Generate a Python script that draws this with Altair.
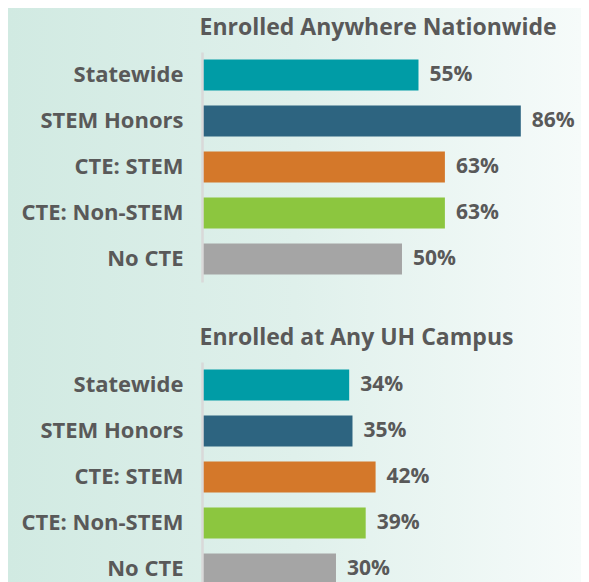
import altair as alt
import pandas as pd

groups = ["Statewide", "STEM Honors", "CTE: STEM", "CTE: Non-STEM", "No CTE"]
nationwide = [55, 86, 63, 63, 50]
uh_campus = [34, 35, 42, 39, 30]
colors = ["#009ca6", "#2d6480", "#d4782a", "#8cc63f", "#a5a5a5"]
titles = ["Enrolled Anywhere Nationwide", "Enrolled at Any UH Campus"]

BASE = -10.6
XMAX = 100
W = 365
H = 230
TEXT = "#595959"
FONT = "Open Sans"

gradient = alt.LinearGradient(
    gradient="linear",
    stops=[
        alt.GradientStop(color="#d1eae2", offset=0),
        alt.GradientStop(color="#dff0eb", offset=0.5),
        alt.GradientStop(color="#f6fbfa", offset=1),
    ],
    x1=0, x2=1, y1=0, y2=0,
)


def panel(values, title, bg_bottom):
    df = pd.DataFrame({"group": groups, "value": values,
                       "label": [f"{v}%" for v in values]})
    bg = alt.Chart(pd.DataFrame({"k": [0]})).mark_rect(fill=gradient).encode(
        x=alt.value(-194), x2=alt.value(379),
        y=alt.value(-44), y2=alt.value(bg_bottom),
    )
    y = alt.Y(
        "group:N", sort=groups,
        scale=alt.Scale(paddingInner=0.33, paddingOuter=0.165),
        axis=alt.Axis(
            title=None, ticks=False, labelPadding=19,
            labelFont=FONT, labelFontSize=22, labelFontWeight="bold",
            labelColor=TEXT, domainColor="#d9d9d9", domainWidth=2.5,
            zindex=1,
        ),
    )
    x = alt.X(
        "value:Q",
        scale=alt.Scale(domain=[BASE, XMAX], nice=False, zero=False),
        axis=alt.Axis(
            orient="top", title=title, labels=False, ticks=False,
            domain=False, grid=False, titleX=-3, titleY=-18,
            titleAlign="left", titleBaseline="alphabetic",
            titleFont=FONT, titleFontSize=23, titleFontWeight="bold",
            titleColor=TEXT, zindex=1,
        ),
    )
    bars = alt.Chart(df).mark_bar().encode(
        y=y, x=x, x2=alt.datum(BASE),
        color=alt.Color("group:N", scale=alt.Scale(domain=groups, range=colors),
                        legend=None),
    )
    text = alt.Chart(df).mark_text(
        align="left", baseline="middle", dx=11, font=FONT, fontSize=21,
        fontWeight="bold", color=TEXT,
    ).encode(y=alt.Y("group:N", sort=groups), x=alt.X("value:Q"), text="label:N")
    return alt.layer(bg, bars, text).properties(width=W, height=H)


top = panel(nationwide, titles[0], 266)
bottom = panel(uh_campus, titles[1], 260)

chart = alt.vconcat(top, bottom, spacing=0).properties(
    padding=0, background="#f6fbfa"
).configure_view(stroke=None)

chart.save("out.html", embed_options={"renderer": "svg", "actions": False})
